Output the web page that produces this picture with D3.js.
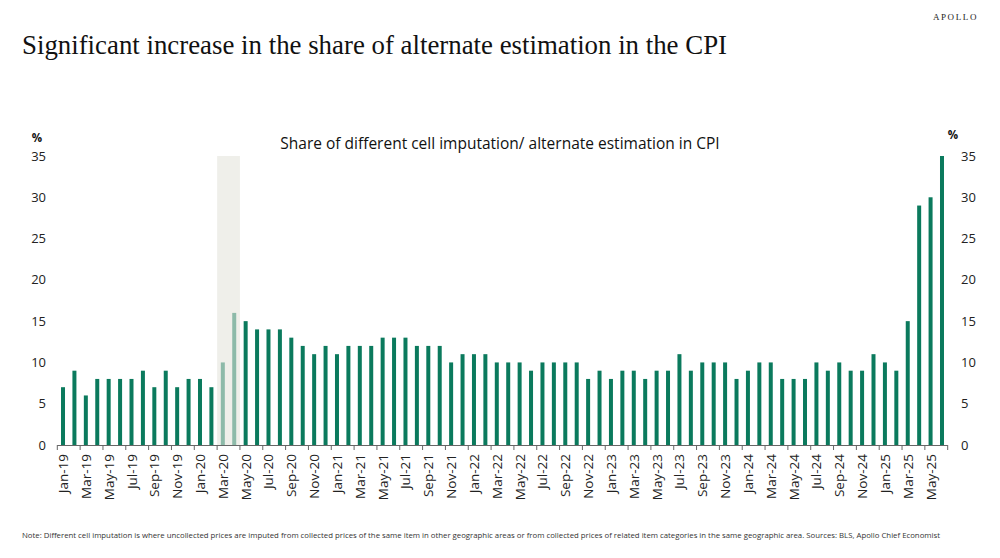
<!DOCTYPE html>
<html>
<head>
<meta charset="utf-8">
<script src="https://cdn.jsdelivr.net/npm/d3@7"></script>
<style>
  html, body { margin: 0; padding: 0; background: #fff; }
  svg { display: block; }
</style>
</head>
<body>
<svg id="chart" width="1000" height="558"></svg>
<script>
const months = [
  "Jan-19","Feb-19","Mar-19","Apr-19","May-19","Jun-19","Jul-19","Aug-19","Sep-19","Oct-19","Nov-19","Dec-19",
  "Jan-20","Feb-20","Mar-20","Apr-20","May-20","Jun-20","Jul-20","Aug-20","Sep-20","Oct-20","Nov-20","Dec-20",
  "Jan-21","Feb-21","Mar-21","Apr-21","May-21","Jun-21","Jul-21","Aug-21","Sep-21","Oct-21","Nov-21","Dec-21",
  "Jan-22","Feb-22","Mar-22","Apr-22","May-22","Jun-22","Jul-22","Aug-22","Sep-22","Oct-22","Nov-22","Dec-22",
  "Jan-23","Feb-23","Mar-23","Apr-23","May-23","Jun-23","Jul-23","Aug-23","Sep-23","Oct-23","Nov-23","Dec-23",
  "Jan-24","Feb-24","Mar-24","Apr-24","May-24","Jun-24","Jul-24","Aug-24","Sep-24","Oct-24","Nov-24","Dec-24",
  "Jan-25","Feb-25","Mar-25","Apr-25","May-25","Jun-25"
];
const shareValues = [
  7,9,6,8,8,8,8,9,7,9,7,8,
  8,7,10,16,15,14,14,14,13,12,11,12,
  11,12,12,12,13,13,13,12,12,12,10,11,
  11,11,10,10,10,9,10,10,10,10,8,9,
  8,9,9,8,9,9,11,9,10,10,10,8,
  9,10,10,8,8,8,10,9,10,9,9,11,
  10,9,15,29,30,35
];
const yTicks = [0,5,10,15,20,25,30,35];
const shadedMonths = ["Mar-20","Apr-20"];

const titleText = "Significant increase in the share of alternate estimation in the CPI";
const chartTitle = "Share of different cell imputation/ alternate estimation in CPI";
const noteText = "Note: Different cell imputation is where uncollected prices are imputed from collected prices of the same item in other geographic areas or from collected prices of related item categories in the same geographic area. Sources: BLS, Apollo Chief Economist";

const svg = d3.select("#chart");
const barColor = "#0b7a5d";

const plotLeft = 57.3, plotRight = 947.7, plotTop = 156, plotBottom = 445;

const x = d3.scaleBand().domain(months).range([plotLeft, plotRight]).paddingInner(0.65).paddingOuter(0.325);
const step = x.step();
const cx = m => x(m) + x.bandwidth() / 2;
const y = d3.scaleLinear().domain([0, 35]).range([plotBottom, plotTop]);

// Title and brand
svg.append("text").attr("x", 978).attr("y", 20).attr("text-anchor", "end")
  .attr("font-family", "Liberation Serif, serif").attr("font-size", 9).attr("letter-spacing", 1.6)
  .attr("fill", "#222").text("APOLLO");
svg.append("text").attr("x", 22).attr("y", 54)
  .attr("font-family", "Liberation Serif, serif").attr("font-size", 27).attr("fill", "#111")
  .attr("textLength", 705).attr("lengthAdjust", "spacingAndGlyphs")
  .text(titleText);

// chart title
svg.append("text").attr("x", 500).attr("y", 149).attr("text-anchor", "middle")
  .attr("font-family", "Open Sans, sans-serif").attr("font-size", 15.5).attr("fill", "#111")
  .text(chartTitle);

// bars
svg.append("g").selectAll("rect").data(months).join("rect")
  .attr("x", d => x(d)).attr("width", x.bandwidth())
  .attr("y", (d, i) => y(shareValues[i]))
  .attr("height", (d, i) => y(0) - y(shareValues[i]))
  .attr("fill", barColor);

// shaded band (drawn over bars, semi-transparent)
const s0 = cx(shadedMonths[0]) - step / 2;
const s1 = cx(shadedMonths[shadedMonths.length - 1]) + step / 2;
svg.append("rect").attr("x", s0).attr("y", plotTop).attr("width", s1 - s0).attr("height", plotBottom - plotTop)
  .attr("fill", "#e4e4dc").attr("opacity", 0.6);

// y axes
const font = "Open Sans, sans-serif";
const yl = svg.append("g").attr("font-family", font).attr("font-size", 13).attr("fill", "#222");
yl.selectAll("text").data(yTicks).join("text")
  .attr("x", 46).attr("y", d => y(d)).attr("dy", "0.35em").attr("text-anchor", "end").text(d => d);
const yr = svg.append("g").attr("font-family", font).attr("font-size", 13).attr("fill", "#222");
yr.selectAll("text").data(yTicks).join("text")
  .attr("x", 961).attr("y", d => y(d)).attr("dy", "0.35em").attr("text-anchor", "start").text(d => d);
svg.append("text").attr("x", 37).attr("y", 142).attr("text-anchor", "middle")
  .attr("font-family", font).attr("font-size", 11.5).attr("font-weight", "bold").attr("fill", "#111").text("%");
svg.append("text").attr("x", 953).attr("y", 139).attr("text-anchor", "middle")
  .attr("font-family", font).attr("font-size", 11.5).attr("font-weight", "bold").attr("fill", "#111").text("%");

// x axis line and ticks (every two months, at month boundaries)
const boundaries = [];
for (let i = 0; i < months.length; i += 2) boundaries.push(cx(months[i]) - step / 2);
boundaries.push(cx(months[months.length - 1]) + step / 2);
svg.append("line").attr("x1", plotLeft).attr("x2", plotRight).attr("y1", plotBottom + 0.5).attr("y2", plotBottom + 0.5)
  .attr("stroke", "#666").attr("stroke-width", 1.2);
svg.append("g").selectAll("line").data(boundaries).join("line")
  .attr("x1", d => d).attr("x2", d => d).attr("y1", plotBottom).attr("y2", plotBottom + 5)
  .attr("stroke", "#666").attr("stroke-width", 1);

// x labels (every other month)
const labelMonths = months.filter((m, i) => i % 2 === 0);
svg.append("g").selectAll("text").data(labelMonths).join("text")
  .attr("transform", d => `translate(${cx(d) + 5},454) rotate(-90)`)
  .attr("text-anchor", "end")
  .attr("font-family", font).attr("font-size", 13.5).attr("fill", "#222")
  .text(d => d);

// footnote
svg.append("text").attr("x", 22).attr("y", 538)
  .attr("font-family", font).attr("font-size", 7.8).attr("fill", "#333")
  .attr("textLength", 918).attr("lengthAdjust", "spacingAndGlyphs")
  .text(noteText);
</script>
</body>
</html>
